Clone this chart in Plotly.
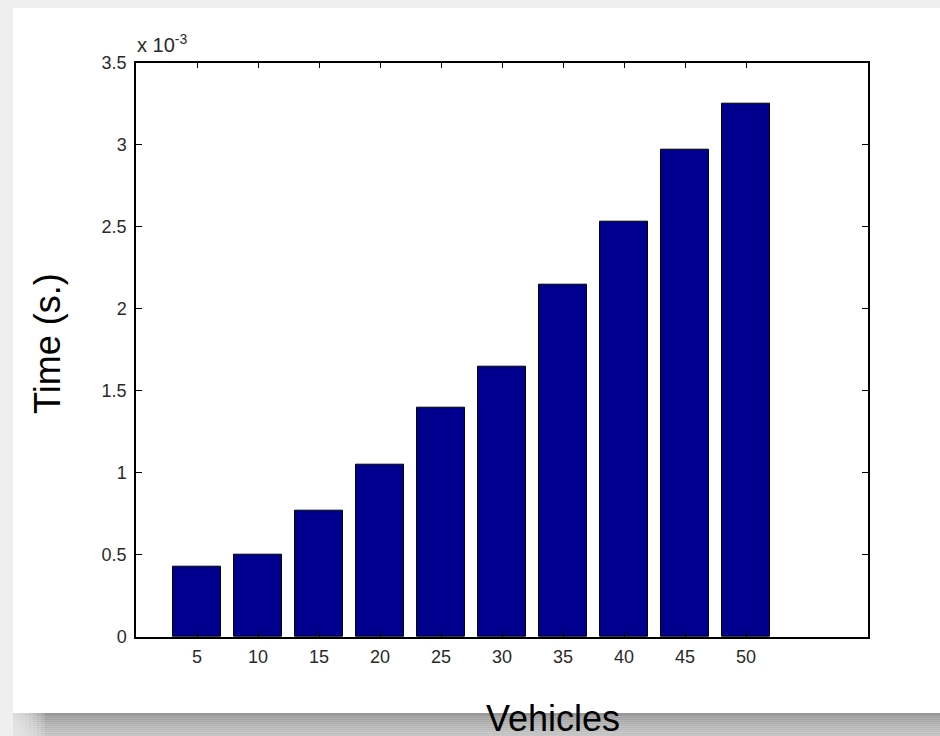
import plotly.graph_objects as go

# Simulation timing per fleet size
vehicles = [5, 10, 15, 20, 25, 30, 35, 40, 45, 50]
time_s = [0.43e-3, 0.50e-3, 0.77e-3, 1.05e-3, 1.40e-3,
          1.65e-3, 2.15e-3, 2.53e-3, 2.97e-3, 3.25e-3]

y_ticks = [0, 0.5e-3, 1.0e-3, 1.5e-3, 2.0e-3, 2.5e-3, 3.0e-3, 3.5e-3]
y_tick_text = ["0", "0.5", "1", "1.5", "2", "2.5", "3", "3.5"]

W, H = 940, 736


def px(x):
    return x / W


def py(y):
    return (H - y) / H


fig = go.Figure()
fig.add_trace(go.Bar(
    x=vehicles,
    y=time_s,
    width=4,
    marker=dict(color="#00008F", line=dict(color="#000000", width=1)),
    showlegend=False,
))

tick_font = dict(family="Liberation Sans, Arial, sans-serif", size=18, color="#2a2a2a")

axis_common = dict(
    showline=True, linecolor="#000000", linewidth=1.5,
    mirror="ticks", ticks="inside", ticklen=6, tickwidth=1.2, tickcolor="#000000",
    showgrid=False, zeroline=False, tickfont=tick_font, automargin=False,
)

fig.update_xaxes(
    range=[0, 60], tickvals=vehicles, ticktext=[str(v) for v in vehicles],
    domain=[px(136), px(868)], ticklabelstandoff=3, **axis_common,
)
fig.update_yaxes(
    range=[0, 3.5e-3], tickvals=y_ticks, ticktext=y_tick_text,
    domain=[py(637), py(62.7)], ticklabelstandoff=4, **axis_common,
)

shapes = []
# white page panel
shapes.append(dict(type="rect", xref="paper", yref="paper",
                   x0=px(13), x1=1.0, y0=py(713), y1=py(8),
                   fillcolor="#ffffff", line=dict(width=0), layer="below"))
# drop shadow under the panel
n = 12
top, bottom = 713, 736
c0, c1 = 0x98, 0xc6
for i in range(n):
    y_a = top + (bottom - top) * i / n
    y_b = top + (bottom - top) * (i + 1) / n
    c = int(c0 + (c1 - c0) * i / (n - 1))
    shapes.append(dict(type="rect", xref="paper", yref="paper",
                       x0=px(13), x1=1.0, y0=py(y_b), y1=py(y_a),
                       fillcolor=f"rgb({c},{c},{c})", line=dict(width=0), layer="below"))
# soften the left end of the shadow
for i in range(8):
    shapes.append(dict(type="rect", xref="paper", yref="paper",
                       x0=px(13), x1=px(13 + 4 * (8 - i)), y0=0, y1=py(713),
                       fillcolor="#efefef", opacity=0.18, line=dict(width=0), layer="below"))

annotations = [
    dict(text="x 10<sup>-3</sup>", xref="paper", yref="paper",
         x=px(135), y=py(43), xanchor="left", yanchor="middle", showarrow=False,
         font=dict(family="Liberation Sans, Arial, sans-serif", size=20, color="#2a2a2a")),
    dict(text="Time (s.)", xref="paper", yref="paper",
         x=px(47), y=py(344), xanchor="center", yanchor="middle", textangle=-90,
         showarrow=False,
         font=dict(family="Liberation Sans, Arial, sans-serif", size=36, color="#000000")),
    dict(text="Vehicles", xref="paper", yref="paper",
         x=px(553), y=py(718), xanchor="center", yanchor="middle",
         showarrow=False,
         font=dict(family="Liberation Sans, Arial, sans-serif", size=36, color="#000000")),
]

fig.update_layout(
    width=W, height=H,
    margin=dict(l=0, r=0, t=0, b=0, pad=0),
    paper_bgcolor="#efefef",
    plot_bgcolor="#ffffff",
    shapes=shapes,
    annotations=annotations,
    bargap=0,
)

fig.write_html("out.html")
